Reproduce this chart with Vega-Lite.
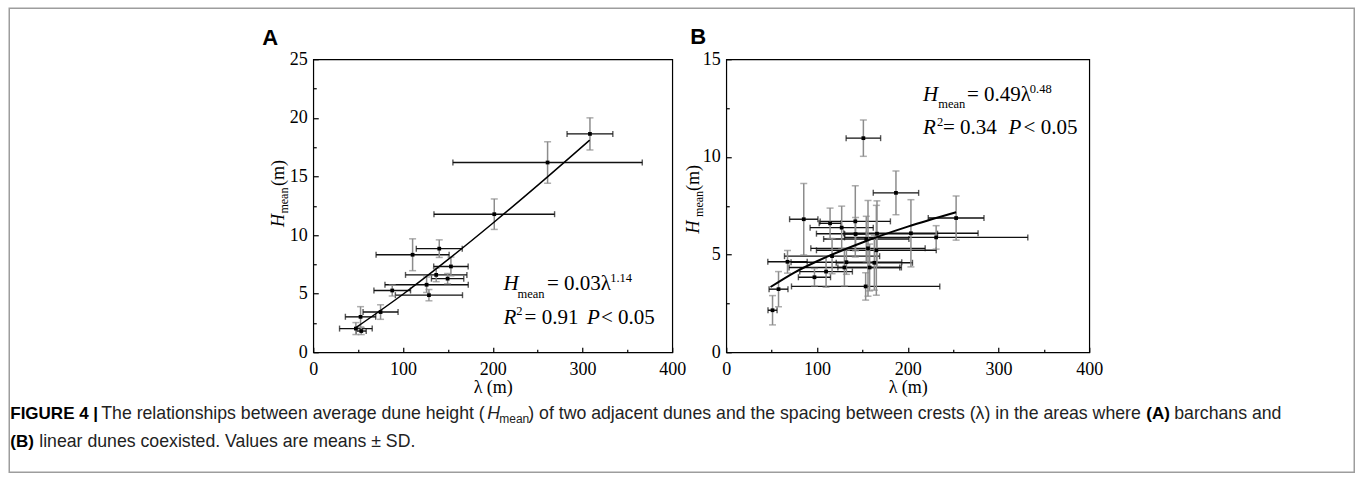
{
  "$schema": "https://vega.github.io/schema/vega-lite/v6.json",
  "background": "white",
  "padding": {"left": 8.25, "top": 7.25, "right": 2, "bottom": 2},
  "datasets": {
    "dunesA": [
      {"lam": 308.3, "lamSD": 25.5, "h": 18.63, "hSD": 1.37},
      {"lam": 261.1, "lamSD": 105.5, "h": 16.19, "hSD": 1.77},
      {"lam": 201.7, "lamSD": 67.2, "h": 11.78, "hSD": 1.30},
      {"lam": 140.4, "lamSD": 25.6, "h": 8.84, "hSD": 0.75},
      {"lam": 110.7, "lamSD": 40.7, "h": 8.32, "hSD": 1.36},
      {"lam": 153.4, "lamSD": 19.2, "h": 7.32, "hSD": 0.80},
      {"lam": 137.0, "lamSD": 34.2, "h": 6.60, "hSD": 0.58},
      {"lam": 149.7, "lamSD": 18.0, "h": 6.28, "hSD": 0.44},
      {"lam": 126.3, "lamSD": 46.4, "h": 5.76, "hSD": 0.66},
      {"lam": 88.0, "lamSD": 20.4, "h": 5.27, "hSD": 0.47},
      {"lam": 128.9, "lamSD": 37.4, "h": 4.87, "hSD": 0.48},
      {"lam": 75.0, "lamSD": 19.5, "h": 3.43, "hSD": 0.62},
      {"lam": 52.7, "lamSD": 16.9, "h": 3.02, "hSD": 0.87},
      {"lam": 47.5, "lamSD": 18.2, "h": 2.02, "hSD": 0.51},
      {"lam": 53.5, "lamSD": 5.5, "h": 1.81, "hSD": 0.30}
    ],
    "dunesB": [
      {"lam": 151.1, "lamSD": 19.0, "h": 10.96, "hSD": 0.93},
      {"lam": 187.0, "lamSD": 25.0, "h": 8.16, "hSD": 1.12},
      {"lam": 85.4, "lamSD": 15.6, "h": 6.81, "hSD": 1.83},
      {"lam": 253.3, "lamSD": 30.7, "h": 6.87, "hSD": 1.13},
      {"lam": 114.4, "lamSD": 12.0, "h": 6.60, "hSD": 0.78},
      {"lam": 142.2, "lamSD": 38.7, "h": 6.70, "hSD": 1.82},
      {"lam": 127.2, "lamSD": 34.8, "h": 6.38, "hSD": 1.10},
      {"lam": 142.5, "lamSD": 12.0, "h": 6.05, "hSD": 0.85},
      {"lam": 166.1, "lamSD": 66.7, "h": 6.07, "hSD": 1.68},
      {"lam": 203.5, "lamSD": 74.0, "h": 6.09, "hSD": 1.72},
      {"lam": 154.3, "lamSD": 47.0, "h": 5.80, "hSD": 1.16},
      {"lam": 231.3, "lamSD": 101.0, "h": 5.88, "hSD": 0.60},
      {"lam": 156.2, "lamSD": 63.0, "h": 5.32, "hSD": 2.45},
      {"lam": 165.4, "lamSD": 66.0, "h": 5.22, "hSD": 2.30},
      {"lam": 116.6, "lamSD": 52.4, "h": 4.92, "hSD": 0.90},
      {"lam": 67.5, "lamSD": 21.7, "h": 4.63, "hSD": 0.58},
      {"lam": 132.4, "lamSD": 61.0, "h": 4.61, "hSD": 0.62},
      {"lam": 163.2, "lamSD": 42.0, "h": 4.58, "hSD": 1.40},
      {"lam": 130.2, "lamSD": 61.0, "h": 4.34, "hSD": 0.95},
      {"lam": 158.0, "lamSD": 35.0, "h": 4.34, "hSD": 1.20},
      {"lam": 110.0, "lamSD": 29.0, "h": 4.13, "hSD": 0.80},
      {"lam": 97.2, "lamSD": 17.7, "h": 3.84, "hSD": 0.45},
      {"lam": 153.6, "lamSD": 81.7, "h": 3.37, "hSD": 0.70},
      {"lam": 57.6, "lamSD": 10.4, "h": 3.23, "hSD": 0.90},
      {"lam": 51.0, "lamSD": 5.0, "h": 2.15, "hSD": 0.75}
    ],
    "fitA": [
      {"lam": 47.5, "h": 2.1}, {"lam": 100, "h": 4.95}, {"lam": 150, "h": 7.9},
      {"lam": 200, "h": 11.01}, {"lam": 250, "h": 14.24}, {"lam": 308, "h": 18.1}
    ],
    "fitB": [
      {"lam": 48.8, "h": 3.34}, {"lam": 75, "h": 4.08}, {"lam": 100, "h": 4.66},
      {"lam": 150, "h": 5.62}, {"lam": 200, "h": 6.43}, {"lam": 253.3, "h": 7.17}
    ],
    "eqA_it": [{"lam": 212.0, "h": 5.29, "t": "H"}, {"lam": 212.0, "h": 2.39, "t": "R"}, {"lam": 304.9, "h": 2.39, "t": "P"}],
    "eqA_n": [{"lam": 260.4, "h": 5.29, "t": "= 0.03λ"}, {"lam": 235.5, "h": 2.39, "t": "= 0.91"}, {"lam": 320.5, "h": 2.39, "t": "< 0.05"}],
    "eqA_s": [{"lam": 227.6, "h": 4.67, "t": "mean"}, {"lam": 330.9, "h": 6.02, "t": "1.14"}, {"lam": 226.2, "h": 3.17, "t": "2"}],
    "eqB_it": [{"lam": 216.7, "h": 12.85, "t": "H"}, {"lam": 216.7, "h": 11.15, "t": "R"}, {"lam": 311.1, "h": 11.15, "t": "P"}],
    "eqB_n": [{"lam": 265.2, "h": 12.85, "t": "= 0.49λ"}, {"lam": 238.8, "h": 11.15, "t": "= 0.34"}, {"lam": 327.6, "h": 11.15, "t": "< 0.05"}],
    "eqB_s": [{"lam": 233.6, "h": 12.49, "t": "mean"}, {"lam": 334.5, "h": 13.25, "t": "0.48"}, {"lam": 232.2, "h": 11.60, "t": "2"}],
    "ytA_it": [{"lam": -33.1, "h": 10.69, "t": "H"}],
    "ytA_s": [{"lam": -27.9, "h": 11.83, "t": "mean"}],
    "ytA_n": [{"lam": -33.1, "h": 14.19, "t": "(m)"}],
    "ytB_it": [{"lam": -29.75, "h": 6.08, "t": "H"}],
    "ytB_s": [{"lam": -25.3, "h": 6.93, "t": "mean"}],
    "ytB_n": [{"lam": -29.75, "h": 8.26, "t": "(m)"}],
    "letA": [{"lam": -56.8, "h": 26.25, "t": "A"}],
    "letB": [{"lam": -39.7, "h": 15.8, "t": "B"}]
  },
  "concat": [
    {
      "width": 359,
      "height": 293,
      "layer": [
        {
          "data": {"name": "dunesA"},
          "mark": {"type": "errorbar", "ticks": true, "size": 6, "thickness": 1.4, "color": "#111111"},
          "encoding": {
            "x": {"field": "lam", "type": "quantitative", "scale": {"domain": [0, 400], "nice": false, "zero": false}, "axis": null},
            "xError": {"field": "lamSD"},
            "y": {"field": "h", "type": "quantitative", "scale": {"domain": [0, 25], "nice": false, "zero": false}, "axis": null}
          }
        },
        {
          "data": {"name": "dunesA"},
          "mark": {"type": "errorbar", "ticks": true, "size": 7, "thickness": 1.5, "color": "#8c8c8c"},
          "encoding": {
            "x": {"field": "lam", "type": "quantitative", "scale": {"domain": [0, 400], "nice": false, "zero": false}, "axis": null},
            "y": {"field": "h", "type": "quantitative", "scale": {"domain": [0, 25], "nice": false, "zero": false}, "axis": null},
            "yError": {"field": "hSD"}
          }
        },
        {
          "data": {"name": "fitA"},
          "mark": {"type": "line", "color": "#000000", "strokeWidth": 1.5, "interpolate": "monotone"},
          "encoding": {
            "x": {"field": "lam", "type": "quantitative", "scale": {"domain": [0, 400], "nice": false, "zero": false},
                  "axis": {"orient": "bottom", "values": [50, 150, 250, 350], "labels": false, "tickSize": -3, "title": null}},
            "y": {"field": "h", "type": "quantitative", "scale": {"domain": [0, 25], "nice": false, "zero": false},
                  "axis": {"orient": "left", "values": [2.5, 7.5, 12.5, 17.5, 22.5], "labels": false, "tickSize": -3, "title": null}}
          }
        },
        {
          "data": {"name": "dunesA"},
          "mark": {"type": "point", "shape": "square", "filled": true, "size": 14, "color": "#000000", "opacity": 1},
          "encoding": {
            "x": {"field": "lam", "type": "quantitative", "scale": {"domain": [0, 400], "nice": false, "zero": false},
                  "axis": {"orient": "bottom", "values": [0, 100, 200, 300, 400], "tickSize": -5, "labelPadding": 13, "title": "λ (m)", "titlePadding": 0}},
            "y": {"field": "h", "type": "quantitative", "scale": {"domain": [0, 25], "nice": false, "zero": false},
                  "axis": {"orient": "left", "values": [0, 5, 10, 15, 20, 25], "tickSize": -5, "labelPadding": 11, "title": null}}
          }
        },
        {
          "data": {"name": "eqA_it"},
          "mark": {"type": "text", "align": "left", "baseline": "alphabetic", "font": "Liberation Serif", "fontStyle": "italic", "fontSize": 21, "color": "#000000"},
          "encoding": {
            "x": {"field": "lam", "type": "quantitative", "scale": {"domain": [0, 400], "nice": false, "zero": false}, "axis": null},
            "y": {"field": "h", "type": "quantitative", "scale": {"domain": [0, 25], "nice": false, "zero": false}, "axis": null},
            "text": {"field": "t"}
          }
        },
        {
          "data": {"name": "eqA_n"},
          "mark": {"type": "text", "align": "left", "baseline": "alphabetic", "font": "Liberation Serif", "fontSize": 21, "color": "#000000"},
          "encoding": {
            "x": {"field": "lam", "type": "quantitative", "scale": {"domain": [0, 400], "nice": false, "zero": false}, "axis": null},
            "y": {"field": "h", "type": "quantitative", "scale": {"domain": [0, 25], "nice": false, "zero": false}, "axis": null},
            "text": {"field": "t"}
          }
        },
        {
          "data": {"name": "eqA_s"},
          "mark": {"type": "text", "align": "left", "baseline": "alphabetic", "font": "Liberation Serif", "fontSize": 12.5, "color": "#000000"},
          "encoding": {
            "x": {"field": "lam", "type": "quantitative", "scale": {"domain": [0, 400], "nice": false, "zero": false}, "axis": null},
            "y": {"field": "h", "type": "quantitative", "scale": {"domain": [0, 25], "nice": false, "zero": false}, "axis": null},
            "text": {"field": "t"}
          }
        },
        {
          "data": {"name": "ytA_it"},
          "mark": {"type": "text", "align": "left", "baseline": "alphabetic", "angle": 270, "font": "Liberation Serif", "fontStyle": "italic", "fontSize": 18, "color": "#000000"},
          "encoding": {
            "x": {"field": "lam", "type": "quantitative", "scale": {"domain": [0, 400], "nice": false, "zero": false}, "axis": null},
            "y": {"field": "h", "type": "quantitative", "scale": {"domain": [0, 25], "nice": false, "zero": false}, "axis": null},
            "text": {"field": "t"}
          }
        },
        {
          "data": {"name": "ytA_s"},
          "mark": {"type": "text", "align": "left", "baseline": "alphabetic", "angle": 270, "font": "Liberation Serif", "fontSize": 12, "color": "#000000"},
          "encoding": {
            "x": {"field": "lam", "type": "quantitative", "scale": {"domain": [0, 400], "nice": false, "zero": false}, "axis": null},
            "y": {"field": "h", "type": "quantitative", "scale": {"domain": [0, 25], "nice": false, "zero": false}, "axis": null},
            "text": {"field": "t"}
          }
        },
        {
          "data": {"name": "ytA_n"},
          "mark": {"type": "text", "align": "left", "baseline": "alphabetic", "angle": 270, "font": "Liberation Serif", "fontSize": 18, "color": "#000000"},
          "encoding": {
            "x": {"field": "lam", "type": "quantitative", "scale": {"domain": [0, 400], "nice": false, "zero": false}, "axis": null},
            "y": {"field": "h", "type": "quantitative", "scale": {"domain": [0, 25], "nice": false, "zero": false}, "axis": null},
            "text": {"field": "t"}
          }
        },
        {
          "data": {"name": "letA"},
          "mark": {"type": "text", "align": "left", "baseline": "alphabetic", "font": "Liberation Sans", "fontWeight": "bold", "fontSize": 22, "color": "#000000"},
          "encoding": {
            "x": {"field": "lam", "type": "quantitative", "scale": {"domain": [0, 400], "nice": false, "zero": false}, "axis": null},
            "y": {"field": "h", "type": "quantitative", "scale": {"domain": [0, 25], "nice": false, "zero": false}, "axis": null},
            "text": {"field": "t"}
          }
        }
      ],
      "resolve": {"axis": {"x": "independent", "y": "independent"}}
    },
    {
      "width": 363,
      "height": 293,
      "layer": [
        {
          "data": {"name": "dunesB"},
          "mark": {"type": "errorbar", "ticks": true, "size": 6, "thickness": 1.4, "color": "#111111"},
          "encoding": {
            "x": {"field": "lam", "type": "quantitative", "scale": {"domain": [0, 400], "nice": false, "zero": false}, "axis": null},
            "xError": {"field": "lamSD"},
            "y": {"field": "h", "type": "quantitative", "scale": {"domain": [0, 15], "nice": false, "zero": false}, "axis": null}
          }
        },
        {
          "data": {"name": "dunesB"},
          "mark": {"type": "errorbar", "ticks": true, "size": 7, "thickness": 1.5, "color": "#8c8c8c"},
          "encoding": {
            "x": {"field": "lam", "type": "quantitative", "scale": {"domain": [0, 400], "nice": false, "zero": false}, "axis": null},
            "y": {"field": "h", "type": "quantitative", "scale": {"domain": [0, 15], "nice": false, "zero": false}, "axis": null},
            "yError": {"field": "hSD"}
          }
        },
        {
          "data": {"name": "fitB"},
          "mark": {"type": "line", "color": "#000000", "strokeWidth": 2, "interpolate": "monotone"},
          "encoding": {
            "x": {"field": "lam", "type": "quantitative", "scale": {"domain": [0, 400], "nice": false, "zero": false},
                  "axis": {"orient": "bottom", "values": [50, 150, 250, 350], "labels": false, "tickSize": -3, "title": null}},
            "y": {"field": "h", "type": "quantitative", "scale": {"domain": [0, 15], "nice": false, "zero": false},
                  "axis": {"orient": "left", "values": [2.5, 7.5, 12.5], "labels": false, "tickSize": -3, "title": null}}
          }
        },
        {
          "data": {"name": "dunesB"},
          "mark": {"type": "point", "shape": "square", "filled": true, "size": 14, "color": "#000000", "opacity": 1},
          "encoding": {
            "x": {"field": "lam", "type": "quantitative", "scale": {"domain": [0, 400], "nice": false, "zero": false},
                  "axis": {"orient": "bottom", "values": [0, 100, 200, 300, 400], "tickSize": -5, "labelPadding": 13, "title": "λ (m)", "titlePadding": 0}},
            "y": {"field": "h", "type": "quantitative", "scale": {"domain": [0, 15], "nice": false, "zero": false},
                  "axis": {"orient": "left", "values": [0, 5, 10, 15], "tickSize": -5, "labelPadding": 11, "title": null}}
          }
        },
        {
          "data": {"name": "eqB_it"},
          "mark": {"type": "text", "align": "left", "baseline": "alphabetic", "font": "Liberation Serif", "fontStyle": "italic", "fontSize": 21, "color": "#000000"},
          "encoding": {
            "x": {"field": "lam", "type": "quantitative", "scale": {"domain": [0, 400], "nice": false, "zero": false}, "axis": null},
            "y": {"field": "h", "type": "quantitative", "scale": {"domain": [0, 15], "nice": false, "zero": false}, "axis": null},
            "text": {"field": "t"}
          }
        },
        {
          "data": {"name": "eqB_n"},
          "mark": {"type": "text", "align": "left", "baseline": "alphabetic", "font": "Liberation Serif", "fontSize": 21, "color": "#000000"},
          "encoding": {
            "x": {"field": "lam", "type": "quantitative", "scale": {"domain": [0, 400], "nice": false, "zero": false}, "axis": null},
            "y": {"field": "h", "type": "quantitative", "scale": {"domain": [0, 15], "nice": false, "zero": false}, "axis": null},
            "text": {"field": "t"}
          }
        },
        {
          "data": {"name": "eqB_s"},
          "mark": {"type": "text", "align": "left", "baseline": "alphabetic", "font": "Liberation Serif", "fontSize": 12.5, "color": "#000000"},
          "encoding": {
            "x": {"field": "lam", "type": "quantitative", "scale": {"domain": [0, 400], "nice": false, "zero": false}, "axis": null},
            "y": {"field": "h", "type": "quantitative", "scale": {"domain": [0, 15], "nice": false, "zero": false}, "axis": null},
            "text": {"field": "t"}
          }
        },
        {
          "data": {"name": "ytB_it"},
          "mark": {"type": "text", "align": "left", "baseline": "alphabetic", "angle": 270, "font": "Liberation Serif", "fontStyle": "italic", "fontSize": 18, "color": "#000000"},
          "encoding": {
            "x": {"field": "lam", "type": "quantitative", "scale": {"domain": [0, 400], "nice": false, "zero": false}, "axis": null},
            "y": {"field": "h", "type": "quantitative", "scale": {"domain": [0, 15], "nice": false, "zero": false}, "axis": null},
            "text": {"field": "t"}
          }
        },
        {
          "data": {"name": "ytB_s"},
          "mark": {"type": "text", "align": "left", "baseline": "alphabetic", "angle": 270, "font": "Liberation Serif", "fontSize": 12, "color": "#000000"},
          "encoding": {
            "x": {"field": "lam", "type": "quantitative", "scale": {"domain": [0, 400], "nice": false, "zero": false}, "axis": null},
            "y": {"field": "h", "type": "quantitative", "scale": {"domain": [0, 15], "nice": false, "zero": false}, "axis": null},
            "text": {"field": "t"}
          }
        },
        {
          "data": {"name": "ytB_n"},
          "mark": {"type": "text", "align": "left", "baseline": "alphabetic", "angle": 270, "font": "Liberation Serif", "fontSize": 18, "color": "#000000"},
          "encoding": {
            "x": {"field": "lam", "type": "quantitative", "scale": {"domain": [0, 400], "nice": false, "zero": false}, "axis": null},
            "y": {"field": "h", "type": "quantitative", "scale": {"domain": [0, 15], "nice": false, "zero": false}, "axis": null},
            "text": {"field": "t"}
          }
        },
        {
          "data": {"name": "letB"},
          "mark": {"type": "text", "align": "left", "baseline": "alphabetic", "font": "Liberation Sans", "fontWeight": "bold", "fontSize": 22, "color": "#000000"},
          "encoding": {
            "x": {"field": "lam", "type": "quantitative", "scale": {"domain": [0, 400], "nice": false, "zero": false}, "axis": null},
            "y": {"field": "h", "type": "quantitative", "scale": {"domain": [0, 15], "nice": false, "zero": false}, "axis": null},
            "text": {"field": "t"}
          }
        }
      ],
      "resolve": {"axis": {"x": "independent", "y": "independent"}}
    },
    {
      "width": 359,
      "height": 60,
      "view": {"stroke": null},
      "layer": [
        {
          "data": {"values": [{"t": "frame"}]},
          "mark": {"type": "rect", "filled": false, "stroke": "#9d9d9d", "strokeWidth": 1.5},
          "encoding": {
            "x": {"datum": 9, "type": "quantitative", "scale": {"domain": [313, 672], "nice": false, "zero": false}, "axis": null},
            "x2": {"datum": 1354},
            "y": {"datum": 8, "type": "quantitative", "scale": {"domain": [400, 460], "nice": false, "zero": false, "reverse": true}, "axis": null},
            "y2": {"datum": 472}
          }
        },
        {
          "data": {"values": [{"t": "FIGURE 4 |"}]},
          "mark": {"type": "text", "align": "left", "baseline": "alphabetic", "font": "Liberation Sans", "fontWeight": "bold", "fontSize": 17, "color": "#000000"},
          "encoding": {
            "x": {"datum": 10, "type": "quantitative", "scale": {"domain": [313, 672], "nice": false, "zero": false}, "axis": null},
            "y": {"datum": 419, "type": "quantitative", "scale": {"domain": [400, 460], "nice": false, "zero": false, "reverse": true}, "axis": null},
            "text": {"field": "t"}
          }
        },
        {
          "data": {"values": [{"t": "The relationships between average dune height ("}]},
          "mark": {"type": "text", "align": "left", "baseline": "alphabetic", "font": "Liberation Sans", "fontSize": 17.7, "color": "#222222"},
          "encoding": {
            "x": {"datum": 101, "type": "quantitative", "scale": {"domain": [313, 672], "nice": false, "zero": false}, "axis": null},
            "y": {"datum": 419, "type": "quantitative", "scale": {"domain": [400, 460], "nice": false, "zero": false, "reverse": true}, "axis": null},
            "text": {"field": "t"}
          }
        },
        {
          "data": {"values": [{"t": "H"}]},
          "mark": {"type": "text", "align": "left", "baseline": "alphabetic", "font": "Liberation Sans", "fontStyle": "italic", "fontSize": 17.7, "color": "#222222"},
          "encoding": {
            "x": {"datum": 487, "type": "quantitative", "scale": {"domain": [313, 672], "nice": false, "zero": false}, "axis": null},
            "y": {"datum": 419, "type": "quantitative", "scale": {"domain": [400, 460], "nice": false, "zero": false, "reverse": true}, "axis": null},
            "text": {"field": "t"}
          }
        },
        {
          "data": {"values": [{"t": "mean"}]},
          "mark": {"type": "text", "align": "left", "baseline": "alphabetic", "font": "Liberation Sans", "fontSize": 12, "color": "#222222"},
          "encoding": {
            "x": {"datum": 499, "type": "quantitative", "scale": {"domain": [313, 672], "nice": false, "zero": false}, "axis": null},
            "y": {"datum": 423, "type": "quantitative", "scale": {"domain": [400, 460], "nice": false, "zero": false, "reverse": true}, "axis": null},
            "text": {"field": "t"}
          }
        },
        {
          "data": {"values": [{"t": ") of two adjacent dunes and the spacing between crests (λ) in the areas where"}]},
          "mark": {"type": "text", "align": "left", "baseline": "alphabetic", "font": "Liberation Sans", "fontSize": 17.7, "color": "#222222"},
          "encoding": {
            "x": {"datum": 528, "type": "quantitative", "scale": {"domain": [313, 672], "nice": false, "zero": false}, "axis": null},
            "y": {"datum": 419, "type": "quantitative", "scale": {"domain": [400, 460], "nice": false, "zero": false, "reverse": true}, "axis": null},
            "text": {"field": "t"}
          }
        },
        {
          "data": {"values": [{"t": "(A)"}]},
          "mark": {"type": "text", "align": "left", "baseline": "alphabetic", "font": "Liberation Sans", "fontWeight": "bold", "fontSize": 17, "color": "#000000"},
          "encoding": {
            "x": {"datum": 1146, "type": "quantitative", "scale": {"domain": [313, 672], "nice": false, "zero": false}, "axis": null},
            "y": {"datum": 419, "type": "quantitative", "scale": {"domain": [400, 460], "nice": false, "zero": false, "reverse": true}, "axis": null},
            "text": {"field": "t"}
          }
        },
        {
          "data": {"values": [{"t": "barchans and"}]},
          "mark": {"type": "text", "align": "left", "baseline": "alphabetic", "font": "Liberation Sans", "fontSize": 17.7, "color": "#222222"},
          "encoding": {
            "x": {"datum": 1174, "type": "quantitative", "scale": {"domain": [313, 672], "nice": false, "zero": false}, "axis": null},
            "y": {"datum": 419, "type": "quantitative", "scale": {"domain": [400, 460], "nice": false, "zero": false, "reverse": true}, "axis": null},
            "text": {"field": "t"}
          }
        },
        {
          "data": {"values": [{"t": "(B)"}]},
          "mark": {"type": "text", "align": "left", "baseline": "alphabetic", "font": "Liberation Sans", "fontWeight": "bold", "fontSize": 17, "color": "#000000"},
          "encoding": {
            "x": {"datum": 10, "type": "quantitative", "scale": {"domain": [313, 672], "nice": false, "zero": false}, "axis": null},
            "y": {"datum": 447, "type": "quantitative", "scale": {"domain": [400, 460], "nice": false, "zero": false, "reverse": true}, "axis": null},
            "text": {"field": "t"}
          }
        },
        {
          "data": {"values": [{"t": "linear dunes coexisted. Values are means ± SD."}]},
          "mark": {"type": "text", "align": "left", "baseline": "alphabetic", "font": "Liberation Sans", "fontSize": 17.7, "color": "#222222"},
          "encoding": {
            "x": {"datum": 39, "type": "quantitative", "scale": {"domain": [313, 672], "nice": false, "zero": false}, "axis": null},
            "y": {"datum": 447, "type": "quantitative", "scale": {"domain": [400, 460], "nice": false, "zero": false, "reverse": true}, "axis": null},
            "text": {"field": "t"}
          }
        }
      ]
    }
  ],
  "columns": 2,
  "bounds": "flush",
  "spacing": {"row": 48, "column": 54},
  "config": {
    "view": {"stroke": "#000000", "strokeWidth": 1.2},
    "axis": {
      "grid": false,
      "domain": false,
      "labelFont": "Liberation Serif",
      "labelFontSize": 18,
      "labelColor": "#000000",
      "labelFlush": false,
      "labelOverlap": false,
      "tickColor": "#000000",
      "tickWidth": 1.2,
      "titleFont": "Liberation Serif",
      "titleFontSize": 18,
      "titleFontWeight": "normal",
      "titleColor": "#000000"
    }
  }
}
